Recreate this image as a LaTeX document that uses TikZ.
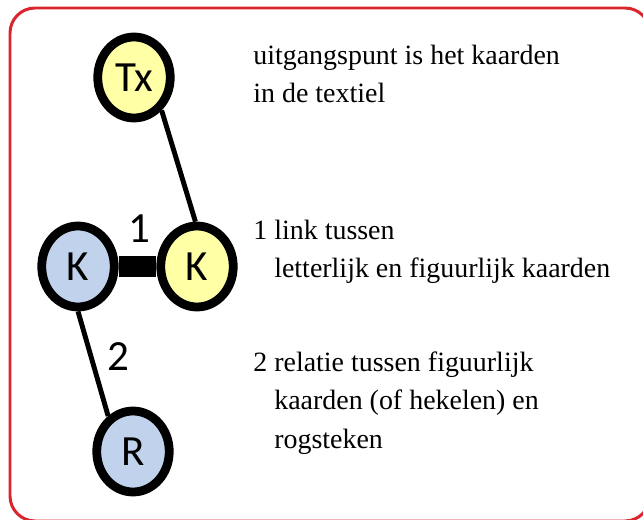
\documentclass[tikz,border=0pt]{standalone}
\usepackage{fontspec}
\setmainfont{Liberation Serif}
\newfontfamily\knoopfont{Carlito}
\usetikzlibrary{shapes.geometric}
\definecolor{kaardgeel}{RGB}{255,255,166}
\definecolor{kaardblauw}{RGB}{193,211,236}
\definecolor{kaderrood}{RGB}{218,37,45}

\begin{document}
\begin{tikzpicture}[
    term/.style={ellipse,draw,line width=5pt,inner sep=0pt,minimum width=1.45cm,minimum height=1.62cm,font=\knoopfont\fontsize{24.5}{28}\selectfont},
    getal/.style={inner sep=0pt,font=\knoopfont\fontsize{24.5}{28}\selectfont},
    uitleg/.style={anchor=base west,inner sep=0pt,align=left,font=\fontsize{15.9}{21.8}\selectfont}]
    \useasboundingbox (0,0) rectangle (12.86,10.38);
    \draw[kaderrood,line width=1.7pt,rounded corners=0.5cm] (0.2,-0.04) rectangle (13.0,10.22);

    \node[term,fill=kaardgeel] (tx) at (2.68,8.83) {Tx};
    \node[term,fill=kaardgeel] (kgeel) at (3.94,5.05) {K};
    \node[term,fill=kaardblauw] (kblauw) at (1.56,5.05) {K};
    \node[term,fill=kaardblauw] (r) at (2.66,1.35) {R};

    \draw[line width=2.8pt] (tx.-50) -- (kgeel.92);
    \draw[line width=12pt] (kblauw) -- (kgeel);
    \draw[line width=2.8pt] (kblauw.south) -- (r.125);

    \node[getal] (een) at (2.78,5.80) {1};
    \node[getal] (twee) at (2.36,3.24) {2};

    % base = baseline of the last line
    \node[uitleg] (start) at (5.06,8.32) {uitgangspunt is het kaarden\\in de textiel};
    \node[uitleg] (link) at (5.06,4.82) {1 link tussen\\\hspace*{0.75em}letterlijk en figuurlijk kaarden};
    \node[uitleg] (relatie) at (5.06,1.42) {2 relatie tussen figuurlijk\\\hspace*{0.75em}kaarden (of hekelen) en\\\hspace*{0.75em}rogsteken};
\end{tikzpicture}
\end{document}
